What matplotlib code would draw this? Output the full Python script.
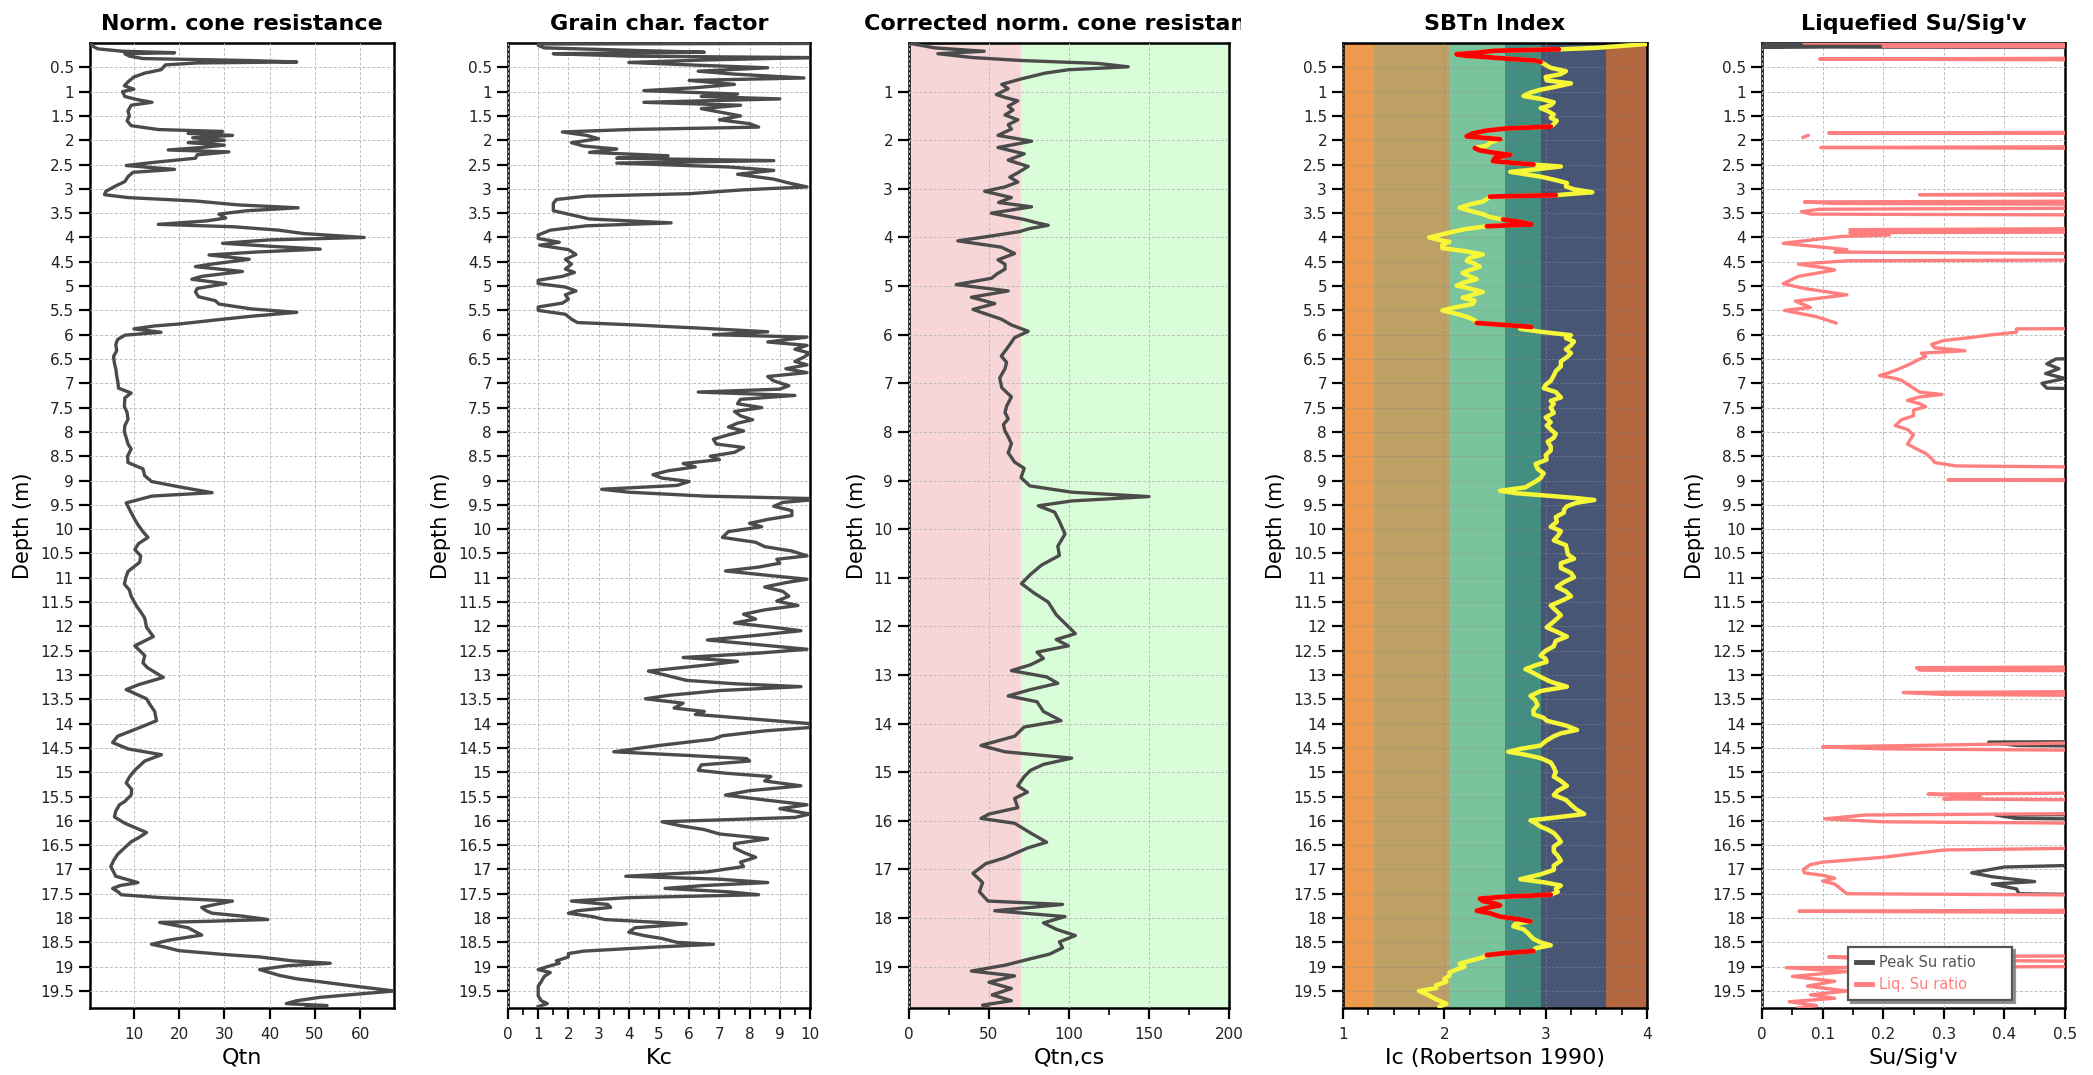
import numpy as np
import matplotlib
matplotlib.use("Agg")
import matplotlib.pyplot as plt
from matplotlib.ticker import MultipleLocator, FuncFormatter
from matplotlib.transforms import Bbox
from matplotlib.lines import Line2D

# ---------------- data ----------------
qtn_depth = [0.02,0.07,0.12,0.17,0.2,0.22,0.27,0.32,0.36,0.39,0.41,0.45,0.55,0.62,0.7,0.8,0.88,0.95,1.0,1.1,1.16,1.22,1.28,1.4,1.5,1.6,1.7,1.78,1.82,1.86,1.9,1.95,2.0,2.05,2.1,2.15,2.2,2.24,2.3,2.37,2.45,2.52,2.6,2.66,2.75,2.85,2.94,3.05,3.12,3.18,3.25,3.33,3.39,3.45,3.52,3.6,3.66,3.73,3.78,3.85,3.92,4.0,4.05,4.12,4.18,4.24,4.3,4.36,4.45,4.55,4.6,4.7,4.8,4.86,4.95,5.05,5.12,5.22,5.3,5.37,5.47,5.54,5.62,5.69,5.78,5.82,5.88,5.95,6.01,6.1,6.2,6.33,6.45,6.59,6.7,6.84,7.0,7.1,7.2,7.3,7.48,7.6,7.74,7.87,8.0,8.15,8.25,8.35,8.5,8.63,8.76,8.9,9.02,9.14,9.25,9.32,9.46,9.66,9.8,9.91,10.05,10.17,10.3,10.42,10.55,10.68,10.87,11.0,11.13,11.25,11.38,11.57,11.7,11.83,12.02,12.21,12.4,12.6,12.75,12.85,13.05,13.2,13.3,13.49,13.6,13.75,13.94,14.07,14.2,14.26,14.39,14.52,14.64,14.77,14.96,15.1,15.22,15.35,15.47,15.6,15.67,15.8,15.92,16.05,16.15,16.24,16.35,16.43,16.55,16.69,16.82,16.94,17.05,17.14,17.27,17.33,17.39,17.46,17.52,17.58,17.65,17.72,17.78,17.85,17.9,17.96,18.03,18.07,18.09,18.2,18.3,18.35,18.45,18.54,18.6,18.67,18.75,18.8,18.88,18.93,18.98,19.06,19.12,19.18,19.25,19.31,19.38,19.44,19.5,19.56,19.63,19.7,19.76,19.8,19.85]
qtn_value = [0.5,1.0,2.0,7.5,19,8,9,12,35,46,24,17,16,12.4,10,8.7,7.9,10,7.5,8,10.5,14,9.4,8.7,9,8.5,9.4,15.4,29.6,22,31.8,23,30,22,30,25,17.6,31,24,23.6,15,8.3,19,9.8,8.7,8,6,3.8,3.5,8.7,23.6,33,46.3,35,28.8,30.3,26,15.4,32,42,47.5,60.9,40,29.6,40,51.2,37,26.6,35.5,27,23.6,34,25,22.8,30.3,24,23.6,24.3,28,28.8,36,46,36,28.8,20,14.6,10,16,8,6.4,6,6.2,5.5,5.7,6,6.2,6.5,6.6,9.4,8,7.9,8.5,8.7,8,7.9,8.4,8.7,9.4,8.6,8.7,12,12.4,13.9,20.6,27.3,14,8.3,9.4,10.2,10.9,12,13.1,11,10.2,11.5,11.3,8.7,8.2,7.9,9,9.4,10.5,11.5,12.4,12.8,14.3,10.2,12.4,12,13,16.5,11,8.3,12.8,13.5,14.6,15,11.6,8,6.4,5.3,8.7,16.1,12.4,10.2,9,8.3,9.5,9.4,8,6.8,6,5.7,8,10.5,12.8,11,9.4,8,6.4,5.5,4.9,5.5,6,10.9,7,5.3,6.5,7.2,16,31.8,28,25,26,27.3,34,39.6,25,15.7,22,24,25,18,13.9,17,19.9,30,37.8,45,53.4,44,37.8,40,42.2,46,51.2,57,62.4,67.6,60,51.2,46,43.7,52.7,48]

kc_depth = [0.01,0.02,0.05,0.1,0.15,0.19,0.22,0.27,0.3,0.35,0.4,0.45,0.51,0.58,0.64,0.72,0.77,0.85,0.92,0.98,1.05,1.1,1.15,1.22,1.28,1.35,1.42,1.5,1.58,1.66,1.73,1.78,1.83,1.9,1.97,2.05,2.12,2.18,2.25,2.32,2.37,2.42,2.47,2.55,2.62,2.7,2.8,2.88,2.96,3.02,3.1,3.15,3.22,3.3,3.45,3.55,3.62,3.7,3.76,3.85,3.95,4.02,4.1,4.16,4.25,4.35,4.45,4.55,4.65,4.72,4.8,4.88,4.95,5.02,5.1,5.18,5.27,5.35,5.43,5.5,5.58,5.68,5.75,5.8,5.87,5.94,6.0,6.05,6.15,6.22,6.3,6.38,6.46,6.55,6.62,6.7,6.78,6.86,6.95,7.05,7.12,7.18,7.25,7.33,7.42,7.5,7.58,7.67,7.75,7.82,7.9,7.98,8.06,8.15,8.25,8.32,8.42,8.5,8.57,8.65,8.72,8.8,8.88,8.95,9.02,9.1,9.18,9.24,9.32,9.37,9.4,9.45,9.53,9.62,9.72,9.8,9.88,9.95,10.05,10.17,10.27,10.36,10.45,10.55,10.62,10.7,10.78,10.86,10.95,11.03,11.1,11.19,11.28,11.38,11.48,11.57,11.66,11.75,11.85,11.93,12.02,12.09,12.18,12.28,12.36,12.47,12.55,12.64,12.72,12.8,12.92,13.0,13.11,13.18,13.24,13.32,13.42,13.49,13.58,13.68,13.75,13.81,13.9,14.0,14.08,14.15,14.25,14.32,14.45,14.58,14.65,14.72,14.77,14.85,14.96,15.02,15.09,15.18,15.28,15.38,15.47,15.57,15.67,15.75,15.86,15.93,16.02,16.1,16.18,16.27,16.37,16.47,16.56,16.65,16.75,16.85,16.94,17.05,17.14,17.2,17.27,17.33,17.39,17.46,17.52,17.58,17.65,17.72,17.78,17.85,17.9,17.97,18.03,18.12,18.2,18.29,18.36,18.42,18.5,18.54,18.6,18.68,18.73,18.8,18.88,18.93,19.0,19.06,19.12,19.2,19.31,19.4,19.5,19.6,19.7,19.76,19.82]
kc_value = [10,1.0,1.0,1.2,4,6.5,1.5,4.0,10,6.5,4.0,6.0,8.6,6.3,7.5,9.8,6.0,7.5,6.2,4.5,7.6,6.4,9,4.5,7.7,6.4,7.0,7.7,7.0,8.0,8.3,4.0,1.8,2.6,3.0,2.1,2.5,3.6,2.7,5.3,3.6,8.8,3.6,7.3,8.8,7.6,8.8,9.3,9.9,7.8,6,2.6,1.6,1.5,1.5,2.2,2.7,5.4,2.6,1.4,1.0,1.0,1.7,1.05,2.0,2.25,1.9,2.1,1.9,2.2,1.8,1.0,1.0,1.9,2.25,1.9,2.0,1.8,1.0,1.0,1.9,2.1,2.3,4.2,6.5,8.6,6.8,9.9,8.6,9.9,9.5,10,9.8,9.5,9.9,9.2,9.9,8.6,8.8,9.3,9.0,6.3,9.5,7.7,7.6,8.4,7.5,7.7,8.1,7.6,7.3,7.8,7.3,6.8,6.9,7.8,7.5,6.7,7.0,5.8,6.2,5.3,4.8,5.1,6.0,5.6,3.1,4.0,6.5,10,10,9.1,8.8,9.4,9.4,8.6,8.0,8.4,7.3,7.1,8.2,8.5,9.4,9.9,8.9,9.0,8.3,7.2,8.6,9.9,9.2,8.5,9.1,9.3,8.9,9.6,8.5,7.8,8.2,7.5,8.8,9.7,8.3,6.6,8.0,9.9,8.3,5.8,7.6,6.5,4.65,5.2,5.9,7.5,9.7,7.0,5.3,4.55,5.8,5.5,6.5,6.2,8.0,10,10,8.5,7.1,6.8,5.0,3.5,5.8,7.9,8.0,6.4,6.3,7.2,8.7,8.5,9.7,8.0,7.2,8.5,9.9,9.0,10,9.5,5.1,5.7,6.5,7.0,8.6,7.5,7.5,7.8,8.2,7.7,7.8,6.6,3.9,7.0,8.6,6.5,5.2,7.3,8.3,4.0,2.1,3.3,3.4,2.3,2.0,2.8,3.2,5.9,4.2,4.0,4.5,5.1,5.6,6.8,4.8,2.5,2.0,2.0,1.6,1.7,1.3,1.0,1.4,1.2,1.1,1.0,1.0,1.0,1.1,1.3,1.0]

qtncs_depth = [0.01,0.05,0.1,0.17,0.22,0.3,0.36,0.42,0.49,0.55,0.62,0.74,0.85,0.94,1.06,1.12,1.19,1.3,1.38,1.48,1.58,1.68,1.77,1.9,2.02,2.15,2.28,2.41,2.54,2.67,2.76,2.86,2.96,3.05,3.18,3.28,3.37,3.5,3.63,3.7,3.75,3.82,3.88,3.98,4.07,4.2,4.33,4.46,4.55,4.65,4.75,4.84,4.97,5.1,5.23,5.36,5.48,5.55,5.68,5.8,5.93,6.06,6.25,6.44,6.57,6.7,6.89,7.09,7.28,7.47,7.6,7.73,7.85,7.98,8.1,8.24,8.43,8.62,8.75,8.94,9.11,9.24,9.33,9.42,9.52,9.65,9.84,10.1,10.35,10.54,10.74,10.93,11.12,11.31,11.5,11.76,12.02,12.15,12.27,12.4,12.53,12.66,12.79,12.91,13.04,13.17,13.3,13.43,13.55,13.75,13.94,14.07,14.26,14.45,14.58,14.71,14.84,14.96,15.09,15.28,15.41,15.54,15.73,15.86,15.95,16.05,16.25,16.44,16.56,16.76,16.88,17.08,17.27,17.46,17.65,17.72,17.85,17.97,18.1,18.23,18.36,18.49,18.61,18.74,18.87,18.97,19.09,19.19,19.32,19.45,19.58,19.7,19.79,19.85]
qtncs_value = [1,7.5,16,47,18,40,70,118,137,99.6,85,70,58,62,54.6,60,68,62,65,60,68,62,64,55.6,76.6,55.6,72,62,74.5,68,63,68,60,47.3,64,56,76.6,51.5,72,80,87,75,69,49.4,30.5,57.7,66,55.6,60,60,55,51.5,29.5,62,39,53.6,40,46,57.7,64,74.5,66,62,57.7,61,60,56.7,58,64,61,60,62,59,60,62,64,62,66,72,70,75.5,101.7,150,101.7,80.8,91,94,97.5,93,94,82.8,76,70.3,78,87,92,100,104,92,99.6,80,84,76,64,86,93,76,62,80,84,95,72,66,45,60,101.7,84,76,72,68,74,66,68,50,45,66,76,86,74,60,48,40,46,44,49.4,96,53.6,97.5,84,92,104,94,96,88,72,60,39,66,50,64,52,64,46,50]

ic_depth = [0.02,0.1,0.13,0.16,0.2,0.23,0.26,0.28,0.32,0.36,0.39,0.45,0.51,0.58,0.64,0.7,0.77,0.83,0.9,0.96,1.02,1.09,1.15,1.22,1.28,1.34,1.4,1.47,1.54,1.6,1.67,1.72,1.76,1.8,1.86,1.92,1.98,2.05,2.11,2.16,2.21,2.26,2.3,2.36,2.43,2.5,2.54,2.6,2.65,2.7,2.75,2.82,2.88,2.95,3.01,3.07,3.13,3.16,3.21,3.26,3.32,3.39,3.45,3.52,3.58,3.63,3.68,3.73,3.77,3.83,3.9,3.95,4.0,4.05,4.09,4.15,4.22,4.28,4.35,4.42,4.48,4.54,4.6,4.67,4.73,4.8,4.86,4.92,4.99,5.05,5.12,5.18,5.24,5.3,5.37,5.44,5.5,5.56,5.63,5.7,5.76,5.8,5.84,5.88,5.94,6.01,6.07,6.14,6.22,6.3,6.38,6.46,6.55,6.65,6.75,6.84,6.95,7.03,7.1,7.18,7.29,7.36,7.42,7.5,7.61,7.7,7.8,7.87,7.95,8.04,8.12,8.2,8.3,8.38,8.48,8.57,8.66,8.76,8.85,8.95,9.02,9.08,9.14,9.21,9.26,9.3,9.36,9.4,9.46,9.53,9.6,9.66,9.75,9.85,9.95,10.04,10.14,10.23,10.33,10.42,10.52,10.61,10.7,10.8,10.9,10.99,11.09,11.19,11.28,11.38,11.48,11.57,11.67,11.77,11.9,12.02,12.12,12.21,12.3,12.41,12.5,12.6,12.67,12.73,12.8,12.88,12.96,13.04,13.14,13.24,13.33,13.43,13.52,13.62,13.72,13.81,13.88,13.94,14.04,14.13,14.2,14.26,14.36,14.45,14.52,14.58,14.64,14.71,14.8,14.9,15.0,15.09,15.18,15.28,15.38,15.47,15.57,15.67,15.76,15.86,15.93,15.99,16.05,16.12,16.18,16.25,16.34,16.43,16.53,16.63,16.72,16.82,16.92,17.01,17.1,17.2,17.27,17.33,17.4,17.46,17.52,17.56,17.6,17.65,17.7,17.74,17.8,17.85,17.9,17.97,18.03,18.07,18.12,18.17,18.23,18.3,18.37,18.43,18.5,18.56,18.62,18.68,18.72,18.76,18.81,18.88,18.94,19.0,19.06,19.12,19.19,19.25,19.31,19.38,19.44,19.5,19.56,19.63,19.7,19.76,19.82]
ic_value = [4.0,3.5,3.13,2.5,2.32,2.12,2.2,2.35,2.6,2.9,2.95,3.0,3.05,3.2,3.15,3.0,3.01,3.25,3.1,2.95,2.85,2.78,2.95,3.08,3.05,2.95,3.02,3.08,3.05,3.11,3.08,3.05,2.6,2.42,2.28,2.22,2.55,2.45,2.42,2.3,2.35,2.5,2.65,2.5,2.48,2.88,3.15,2.9,2.65,2.8,2.95,3.1,3.21,3.2,3.28,3.46,3.1,2.45,2.42,2.38,2.25,2.15,2.25,2.38,2.45,2.58,2.75,2.86,2.42,2.2,2.05,1.95,1.85,1.95,2.05,1.98,1.98,2.2,2.38,2.25,2.22,2.3,2.35,2.25,2.18,2.25,2.32,2.2,2.12,2.25,2.38,2.28,2.18,2.3,2.28,2.1,1.98,2.1,2.22,2.3,2.32,2.6,2.86,2.75,2.95,3.25,3.2,3.28,3.25,3.2,3.25,3.21,3.15,3.15,3.1,3.08,3.05,3.0,2.98,3.1,3.15,3.05,3.08,3.05,3.08,3.0,3.05,3.01,3.05,3.1,3.08,3.02,3.05,3.05,3.0,3.01,2.9,2.92,2.98,2.95,2.9,2.85,2.8,2.55,2.7,2.95,3.3,3.48,3.3,3.21,3.18,3.18,3.1,3.11,3.05,3.15,3.12,3.08,3.2,3.21,3.22,3.28,3.15,3.15,3.25,3.28,3.18,3.11,3.2,3.25,3.15,3.05,3.1,3.15,3.08,3.01,3.12,3.21,3.1,3.08,3.0,2.95,3.0,3.01,2.9,2.8,2.88,2.95,3.05,3.21,2.95,2.85,2.9,2.92,2.88,2.88,2.98,3.01,3.2,3.31,3.15,3.08,3.0,2.95,2.75,2.63,2.8,2.95,3.05,3.08,3.1,3.08,3.15,3.21,3.12,3.08,3.2,3.25,3.3,3.38,3.1,2.85,2.9,2.95,3.02,3.08,3.12,3.15,3.08,3.08,3.12,3.15,3.08,3.08,2.95,2.75,3.0,3.15,3.1,3.12,3.05,2.6,2.35,2.38,2.5,2.55,2.4,2.32,2.45,2.55,2.75,2.85,2.7,2.68,2.78,2.82,2.85,2.88,2.95,3.05,2.9,2.88,2.6,2.42,2.38,2.25,2.15,2.2,2.12,2.05,2.05,2.0,2.02,1.92,1.92,1.75,1.82,1.88,1.95,2.02,1.95]
ic_red_ranges = [(0.13, 0.39), (1.72, 1.98), (2.16, 2.5), (3.13, 3.16), (3.63, 3.77), (5.76, 5.84), (17.52, 18.07), (18.68, 18.76)]
sbt_bounds = [1.0, 1.31, 2.05, 2.6, 2.95, 3.6, 4.0]
sbt_colors = ["#EE9A4C", "#BE9F64", "#79C39D", "#438E80", "#485676", "#B3673E"]

NAN = float("nan")
peak_depth = [0.0,0.02,0.04,0.06,0.08,0.1,6.4,6.5,6.6,6.7,6.8,6.9,7.0,7.1,7.2,14.35,14.38,14.45,14.5,15.85,15.88,15.95,16.0,16.8,16.95,17.07,17.15,17.25,17.3,17.4,17.5,17.58,19.85]
peak_ratio = [0.0,0.2,0.0,0.18,0.0,0.9,0.9,0.485,0.47,0.49,0.468,0.5,0.462,0.47,0.9,0.9,0.374,0.42,0.9,0.9,0.385,0.42,0.9,0.9,0.4,0.346,0.38,0.45,0.38,0.42,0.424,0.9,0.9]

liq_depth = [0.0,0.01,0.03,0.05,0.07,0.09,0.3,0.33,0.36,1.83,1.85,1.87,1.89,1.9,1.94,1.95,2.12,2.15,2.18,3.08,3.12,3.15,3.24,3.27,3.3,3.33,3.38,3.42,3.47,3.52,3.55,3.8,3.84,3.88,3.9,3.95,3.98,4.12,4.2,4.25,4.3,4.36,4.45,4.48,4.55,4.62,4.67,4.8,4.95,5.05,5.18,5.31,5.44,5.5,5.63,5.76,5.8,5.86,5.88,5.95,6.0,6.05,6.12,6.2,6.27,6.33,6.38,6.45,6.52,6.6,6.71,6.78,6.84,6.9,6.94,7.02,7.1,7.18,7.23,7.28,7.35,7.42,7.48,7.55,7.67,7.75,7.87,7.95,8.06,8.15,8.25,8.35,8.44,8.55,8.63,8.7,8.76,8.96,8.99,9.02,12.82,12.85,12.9,12.93,13.32,13.36,13.4,13.45,14.28,14.4,14.48,14.52,14.58,15.4,15.45,15.5,15.55,15.6,15.82,15.88,15.96,16.02,16.08,16.5,16.6,16.75,16.85,16.9,17.0,17.07,17.12,17.18,17.24,17.3,17.4,17.5,17.55,17.82,17.86,17.9,18.76,18.8,18.86,18.92,18.98,19.02,19.1,19.2,19.3,19.4,19.5,19.58,19.65,19.72,19.8,19.85]
liq_ratio = [0.07,0.9,0.21,0.9,0.2,0.9,0.9,0.095,0.9,0.9,0.11,0.9,NAN,0.076,0.068,NAN,0.9,0.097,0.9,0.9,0.26,0.9,0.9,0.07,0.12,0.9,0.9,0.095,0.065,0.08,0.9,0.9,0.145,0.9,0.145,0.21,0.13,0.035,0.1,0.14,0.12,0.9,0.9,0.14,0.06,0.1,0.12,0.06,0.035,0.07,0.14,0.055,0.08,0.037,0.09,0.122,NAN,0.9,0.42,0.42,0.38,0.35,0.3,0.28,0.285,0.335,0.263,0.27,0.257,0.245,0.225,0.21,0.194,0.22,0.23,0.24,0.25,0.26,0.297,0.26,0.24,0.26,0.27,0.25,0.25,0.23,0.22,0.24,0.25,0.245,0.24,0.255,0.27,0.28,0.285,0.32,0.9,0.9,0.307,0.9,0.9,0.255,0.26,0.9,0.9,0.233,0.3,0.9,0.9,0.5,0.1,0.2,0.9,0.9,0.274,0.36,0.3,0.9,0.9,0.17,0.103,0.2,0.9,0.9,0.3,0.2,0.1,0.08,0.068,0.07,0.1,0.12,0.1,0.12,0.13,0.14,0.9,0.9,0.061,0.9,0.9,0.11,0.2,0.9,0.9,0.04,0.14,0.05,0.12,0.075,0.14,0.08,0.12,0.045,0.09,0.06]

# ---------------- style ----------------
W, H = 2093, 1075
fig = plt.figure(figsize=(W / 100, H / 100), dpi=100)
plt.rcParams["font.family"] = ["DejaVu Sans"]

LINE = "#4B4B4B"
GRID = dict(color="#BDBDBD", linestyle=(0, (3, 2)), linewidth=0.7)
TOP, BOT = 43, 1008
YMAX = 19.85

def make_ax(x0, x1):
    ax = fig.add_axes([x0 / W, 1 - BOT / H, (x1 - x0) / W, (BOT - TOP) / H])
    for s in ax.spines.values():
        s.set_linewidth(1.8)
        s.set_color("black")
    ax.set_ylim(YMAX, 0)
    ax.tick_params(axis="both", which="major", length=8, width=1.6, labelsize=11, colors="black", labelcolor="#222222")
    ax.tick_params(axis="both", which="minor", length=5, width=1.2)
    ax.tick_params(axis="x", pad=6)
    ax.yaxis.set_major_formatter(FuncFormatter(lambda v, p: "%g" % v))
    ax.xaxis.set_major_formatter(FuncFormatter(lambda v, p: "%g" % v))
    ax.set_ylabel("Depth (m)", fontsize=15, labelpad=5)
    ax.grid(True, which="major", **GRID)
    ax.set_axisbelow(False)
    return ax

def set_yticks(ax, step):
    ax.set_yticks(np.arange(step, 19.6, step))

TITLE_KW = dict(fontsize=16, fontweight="bold", pad=9)
XLAB = 16

# Panel 1
ax1 = make_ax(90, 394)
ax1.plot(qtn_value, qtn_depth, color=LINE, lw=2.4, zorder=3)
ax1.set_xlim(0.3, 67.5)
ax1.set_xticks([10, 20, 30, 40, 50, 60])
set_yticks(ax1, 0.5)
ax1.set_xlabel("Qtn", fontsize=XLAB)
ax1.set_title("Norm. cone resistance", **TITLE_KW)

# Panel 2
ax2 = make_ax(508, 810)
ax2.plot(kc_value, kc_depth, color=LINE, lw=2.4, zorder=3)
ax2.set_xlim(0, 10)
ax2.set_xticks(range(0, 11))
ax2.xaxis.set_minor_locator(MultipleLocator(0.5))
set_yticks(ax2, 0.5)
ax2.set_xlabel("Kc", fontsize=XLAB)
ax2.set_title("Grain char. factor", **TITLE_KW)

# Panel 3
ax3 = make_ax(909, 1229)
ax3.axvspan(0, 70, color="#F6D6D6", zorder=0, lw=0)
ax3.axvspan(70, 200, color="#D9FDD9", zorder=0, lw=0)
ax3.plot(qtncs_value, qtncs_depth, color=LINE, lw=2.4, zorder=3)
ax3.set_xlim(0, 200)
ax3.set_xticks([0, 50, 100, 150, 200])
ax3.xaxis.set_minor_locator(MultipleLocator(25))
ax3.set_yticks(np.arange(1, 20, 1))
ax3.set_xlabel("Qtn,cs", fontsize=XLAB)
t3 = ax3.set_title("Corrected norm. cone resistance", **TITLE_KW)
t3.set_clip_box(Bbox.from_extents(0, 0, 1241, H))
t3.set_clip_on(True)

# Panel 4
ax4 = make_ax(1343, 1647)
for i, c in enumerate(sbt_colors):
    ax4.axvspan(sbt_bounds[i], sbt_bounds[i + 1], color=c, zorder=0, lw=0)
ax4.plot(ic_value, ic_depth, color="#F7F73A", lw=3.2, zorder=3, solid_capstyle="round")
ic_d = np.array(ic_depth)
ic_v = np.array(ic_value)
for lo, hi in ic_red_ranges:
    m = (ic_d >= lo - 1e-9) & (ic_d <= hi + 1e-9)
    ax4.plot(ic_v[m], ic_d[m], color="#FF0000", lw=3.4, zorder=4, solid_capstyle="round")
ax4.set_xlim(1, 4)
ax4.set_xticks([1, 2, 3, 4])
ax4.xaxis.set_minor_locator(MultipleLocator(0.25))
set_yticks(ax4, 0.5)
ax4.grid(True, which="major", color="#8A8A8A", linestyle=(0, (3, 2)), linewidth=0.6, alpha=0.6)
ax4.set_xlabel("Ic (Robertson 1990)", fontsize=XLAB)
ax4.set_title("SBTn Index", **TITLE_KW)

# Panel 5
ax5 = make_ax(1762, 2065)
ax5.plot(peak_ratio, peak_depth, color=LINE, lw=2.4, zorder=3, label="Peak Su ratio")
ax5.plot(liq_ratio, liq_depth, color="#FF7F7F", lw=2.4, zorder=4, label="Liq. Su ratio")
ax5.set_xlim(0, 0.5)
ax5.set_xticks([0, 0.1, 0.2, 0.3, 0.4, 0.5])
ax5.xaxis.set_minor_locator(MultipleLocator(0.05))
set_yticks(ax5, 0.5)
ax5.set_xlabel("Su/Sig'v", fontsize=XLAB)
ax5.set_title("Liquefied Su/Sig'v", **TITLE_KW)
handles = [Line2D([], [], color=LINE, lw=3.5), Line2D([], [], color="#FF7F7F", lw=3.5)]
leg = ax5.legend(handles, ["Peak Su ratio      ", "Liq. Su ratio      "], loc="lower left",
                 bbox_to_anchor=((1848 - 1762) / (2065 - 1762), (1008 - 1000) / (1008 - 43)),
                 fontsize=10.5, frameon=True, fancybox=False, shadow={"color": "#808080", "alpha": 0.8},
                 handlelength=1.1, borderpad=0.55, labelspacing=0.45, handletextpad=0.5, borderaxespad=0)
leg.get_frame().set_edgecolor("#555555")
leg.get_frame().set_linewidth(1.6)
leg.get_texts()[0].set_color("#555555")
leg.get_texts()[1].set_color("#FF7F7F")
leg.set_zorder(10)

fig.savefig("out.png", dpi=100)
